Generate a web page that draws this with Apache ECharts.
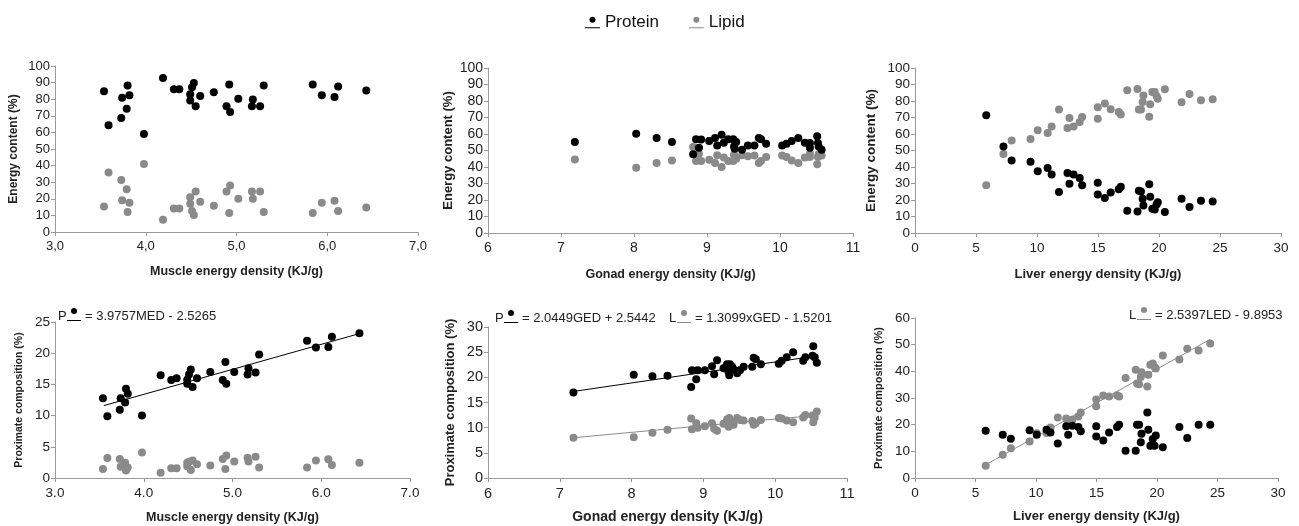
<!DOCTYPE html>
<html>
<head>
<meta charset="utf-8">
<script src="https://cdn.jsdelivr.net/npm/echarts@6/dist/echarts.min.js"></script>
<style>
  html, body { margin: 0; padding: 0; background: #fff; }
  #chart { width: 1299px; height: 526px; }
</style>
</head>
<body>
<div id="chart"></div>
<script>
// ---- muscle ----
const muscleX = [3.54, 3.59, 3.73, 3.74, 3.79, 3.80, 3.82, 3.98, 4.19, 4.31, 4.37, 4.49, 4.49, 4.51, 4.53, 4.55, 4.60, 4.75, 4.89, 4.92, 4.93, 5.02, 5.17, 5.18, 5.26, 5.30, 5.84, 5.94, 6.08, 6.12, 6.43]
const muscleProtEnergy = [84.8, 64.3, 68.7, 80.8, 74.3, 88.2, 82.4, 59.1, 92.8, 86.0, 86.0, 83.0, 79.2, 87.2, 89.8, 75.8, 82.0, 84.2, 75.8, 88.8, 72.3, 80.2, 75.8, 79.8, 75.8, 88.2, 88.8, 82.4, 81.4, 87.6, 85.2]
const muscleLipEnergy = [15.4, 35.9, 31.3, 19.2, 25.7, 12.0, 17.6, 40.9, 7.4, 14.2, 14.2, 17.0, 21.0, 12.6, 10.2, 24.4, 18.2, 15.8, 24.4, 11.4, 28.0, 20.0, 24.4, 20.0, 24.4, 12.0, 11.4, 17.6, 18.8, 12.6, 14.8]
const muscleProtComp = [12.8, 9.9, 10.95, 12.8, 12.1, 14.3, 13.5, 10.0, 16.45, 15.7, 16.0, 15.75, 15.1, 16.6, 17.4, 14.6, 16.0, 17.0, 15.7, 18.6, 15.1, 17.0, 16.6, 17.6, 16.9, 19.8, 22.0, 20.9, 21.0, 22.65, 23.2]
const muscleLipComp = [1.45, 3.2, 3.05, 1.8, 2.45, 1.2, 1.7, 4.1, 0.85, 1.55, 1.55, 2.45, 1.9, 2.6, 1.3, 2.8, 2.2, 2.0, 3.05, 1.45, 3.6, 2.65, 3.25, 2.65, 3.4, 1.7, 1.7, 2.8, 3.0, 2.1, 2.45]
const muscleProtFit = [[3.55, 11.6], [6.42, 23.1]]

// ---- gonad ----
const gonadEnergyX = [7.19, 8.03, 8.31, 8.52, 8.81, 8.85, 8.89, 8.92, 9.03, 9.11, 9.14, 9.20, 9.23, 9.29, 9.36, 9.37, 9.38, 9.40, 9.48, 9.56, 9.65, 9.71, 9.74, 9.81, 10.03, 10.09, 10.16, 10.25, 10.34, 10.41, 10.41, 10.51, 10.52, 10.53, 10.57]
const gonadProtEnergy = [55.2, 60.2, 57.6, 55.2, 47.7, 56.8, 51.7, 56.6, 55.8, 57.6, 53.1, 59.6, 54.7, 56.8, 56.8, 52.5, 51.1, 55.2, 50.5, 53.1, 53.1, 57.6, 56.8, 54.1, 53.1, 54.1, 55.8, 57.6, 54.7, 54.5, 51.7, 58.6, 54.5, 52.5, 50.5]
const gonadLipEnergy = [44.6, 39.6, 42.4, 44.0, 52.1, 43.6, 48.1, 43.6, 44.4, 42.4, 47.1, 40.0, 45.7, 43.6, 43.6, 47.5, 46.0, 45.0, 47.1, 46.5, 47.0, 42.4, 43.6, 46.0, 47.0, 46.0, 44.0, 42.4, 45.7, 46.0, 48.0, 41.6, 46.0, 47.7, 47.0]
const gonadCompX = [7.19, 8.03, 8.29, 8.50, 8.83, 8.84, 8.90, 8.92, 9.02, 9.12, 9.15, 9.19, 9.28, 9.33, 9.35, 9.36, 9.37, 9.40, 9.42, 9.47, 9.51, 9.56, 9.68, 9.70, 9.73, 9.80, 10.05, 10.09, 10.16, 10.25, 10.39, 10.42, 10.52, 10.53, 10.55, 10.58]
const gonadProtComp = [17.0, 20.5, 20.2, 20.3, 18.1, 21.4, 19.6, 21.4, 21.4, 22.2, 20.6, 23.4, 21.8, 22.6, 21.1, 20.4, 22.6, 22.1, 21.6, 20.8, 21.4, 22.1, 22.1, 23.9, 23.6, 22.6, 22.7, 23.3, 24.0, 25.0, 23.3, 24.0, 24.3, 26.2, 24.0, 22.9]
const gonadLipComp = [8.0, 8.1, 9.0, 9.6, 11.8, 9.7, 10.9, 10.0, 10.3, 10.9, 9.8, 9.4, 10.8, 11.6, 10.2, 11.9, 10.5, 11.1, 10.6, 11.9, 11.5, 11.4, 11.3, 10.6, 10.9, 11.5, 11.9, 11.8, 11.4, 11.1, 12.0, 12.5, 12.4, 11.1, 12.0, 13.2]
const gonadProtFit = [[7.19, 17.2], [10.6, 24.3]]
const gonadLipFit = [[7.19, 8.0], [10.6, 12.5]]

// ---- liver ----
const liverX = [5.84, 7.25, 7.92, 9.47, 10.06, 10.87, 11.2, 11.8, 12.5, 12.66, 13.0, 13.5, 13.7, 14.98, 14.98, 15.56, 16.04, 16.7, 16.87, 17.4, 18.24, 18.35, 18.52, 18.66, 18.72, 19.2, 19.28, 19.45, 19.65, 19.8, 19.9, 20.48, 21.85, 22.5, 23.44, 24.4]
const liverProtEnergy = [71.3, 52.5, 44.0, 43.2, 37.4, 39.4, 35.4, 24.8, 36.4, 29.9, 35.4, 33.3, 28.9, 30.5, 23.4, 21.2, 24.6, 26.5, 28.0, 13.5, 13.0, 25.6, 25.2, 20.8, 16.7, 29.5, 22.0, 14.7, 14.3, 17.2, 18.6, 12.7, 20.8, 15.8, 19.6, 19.1]
const liverLipEnergy = [28.9, 47.9, 56.0, 57.0, 62.2, 60.6, 64.6, 74.9, 63.6, 69.7, 64.6, 67.3, 70.3, 69.3, 76.2, 78.5, 75.0, 73.4, 71.8, 86.5, 87.2, 74.8, 74.8, 79.4, 83.3, 70.5, 78.0, 85.5, 85.5, 83.0, 81.3, 87.1, 79.2, 84.3, 80.5, 81.0]
const liverProtComp = [17.7, 16.2, 14.7, 17.9, 16.2, 18.1, 17.1, 12.9, 19.4, 16.2, 19.6, 19.1, 17.5, 19.4, 15.6, 14.1, 17.1, 19.1, 20.0, 10.2, 10.2, 20.0, 20.0, 13.4, 16.6, 24.6, 18.1, 12.1, 14.6, 12.1, 15.9, 11.5, 19.1, 15.0, 20.0, 20.0]
const liverLipComp = [4.6, 8.7, 11.2, 13.7, 16.8, 16.9, 18.9, 22.7, 22.3, 21.4, 21.8, 23.1, 24.6, 26.9, 29.4, 30.9, 30.6, 31.0, 30.6, 37.5, 40.6, 35.4, 35.2, 37.9, 39.7, 34.3, 38.7, 42.5, 42.9, 41.6, 41.1, 45.9, 44.4, 48.5, 47.8, 50.4]
const liverLipFit = [[5.86, 5.0], [24.4, 52.0]]

const BLACK = '#000000'
const GREY = '#8a8a8a'
const FONT = 'Liberation Sans, Arial, sans-serif'

const pairs = (xs, ys) => xs.map((x, i) => [x, ys[i]])

// grid boxes (px)
const gridBoxes = [
  {left: 55, top: 66, width: 363, height: 166},
  {left: 488, top: 68, width: 365, height: 165},
  {left: 915, top: 68, width: 366, height: 165},
  {left: 55, top: 322, width: 355, height: 156},
  {left: 488, top: 327, width: 359, height: 151},
  {left: 915, top: 318, width: 363, height: 160}
]

const axisLine = {lineStyle: {color: '#9a9a9a', width: 1}}
const axisTick = {show: true, length: 4, lineStyle: {color: '#9a9a9a'}}
const tickLabel = size => ({color: '#222', fontSize: size, fontFamily: FONT})
const nameStyle = size => ({color: '#222', fontSize: size, fontWeight: 'bold', fontFamily: FONT})

// per panel: tick font, x name font, y name font (panels are scaled a little differently)
const panelFonts = [
  {tick: 13, xName: 12.5, yName: 12},
  {tick: 14, xName: 12.5, yName: 13},
  {tick: 13.5, xName: 13, yName: 13.5},
  {tick: 13.5, xName: 12.5, yName: 10.5},
  {tick: 14.5, xName: 14, yName: 13},
  {tick: 13.5, xName: 13, yName: 11}
]

const xAxisDefs = [
  {min: 3, max: 7, interval: 1, name: 'Muscle energy density (KJ/g)', fmt: v => v.toFixed(1).replace('.', ','), gap: 33},
  {min: 6, max: 11, interval: 1, name: 'Gonad energy density (KJ/g)', fmt: v => String(v), gap: 35},
  {min: 0, max: 30, interval: 5, name: 'Liver energy density (KJ/g)', fmt: v => String(v), gap: 35},
  {min: 3, max: 7, interval: 1, name: 'Muscle energy density (KJ/g)', fmt: v => v.toFixed(1), gap: 33},
  {min: 6, max: 11, interval: 1, name: 'Gonad energy density (KJ/g)', fmt: v => String(v), gap: 32},
  {min: 0, max: 30, interval: 5, name: 'Liver energy density (KJ/g)', fmt: v => String(v), gap: 32}
]
const yAxisDefs = [
  {min: 0, max: 100, interval: 10, name: 'Energy content (%)', gap: 35},
  {min: 0, max: 100, interval: 10, name: 'Energy content (%)', gap: 33},
  {min: 0, max: 100, interval: 10, name: 'Energy content (%)', gap: 37},
  {min: 0, max: 25, interval: 5, name: 'Proximate composition (%)', gap: 30},
  {min: 0, max: 30, interval: 5, name: 'Proximate composition (%)', gap: 31},
  {min: 0, max: 60, interval: 10, name: 'Proximate composition (%)', gap: 31}
]

const xAxes = xAxisDefs.map((d, i) => ({
  type: 'value', gridIndex: i, min: d.min, max: d.max, interval: d.interval,
  name: d.name, nameLocation: 'middle', nameGap: d.gap, nameTextStyle: nameStyle(panelFonts[i].xName),
  axisLine: axisLine, axisTick: axisTick, splitLine: {show: false},
  axisLabel: Object.assign({formatter: d.fmt, margin: 8}, tickLabel(panelFonts[i].tick))
}))
const yAxes = yAxisDefs.map((d, i) => ({
  type: 'value', gridIndex: i, min: d.min, max: d.max, interval: d.interval,
  name: d.name, nameLocation: 'middle', nameGap: d.gap, nameTextStyle: nameStyle(panelFonts[i].yName),
  axisLine: Object.assign({show: true}, axisLine), axisTick: axisTick, splitLine: {show: false},
  axisLabel: Object.assign({margin: 5}, tickLabel(panelFonts[i].tick))
}))

const dots = (name, idx, data, color) => ({
  name: name, type: 'scatter', xAxisIndex: idx, yAxisIndex: idx,
  data: data, symbolSize: 8, itemStyle: {color: color, opacity: 1}, z: 3
})
const fit = (idx, data, color) => ({
  name: 'fit', type: 'line', xAxisIndex: idx, yAxisIndex: idx,
  data: data, symbol: 'none', lineStyle: {color: color, width: 1}, z: 2, silent: true
})

const series = [
  dots('Protein', 0, pairs(muscleX, muscleProtEnergy), BLACK),
  dots('Lipid', 0, pairs(muscleX, muscleLipEnergy), GREY),
  dots('Lipid', 1, pairs(gonadEnergyX, gonadLipEnergy), GREY),
  dots('Protein', 1, pairs(gonadEnergyX, gonadProtEnergy), BLACK),
  dots('Lipid', 2, pairs(liverX, liverLipEnergy), GREY),
  dots('Protein', 2, pairs(liverX, liverProtEnergy), BLACK),
  dots('Protein', 3, pairs(muscleX, muscleProtComp), BLACK),
  dots('Lipid', 3, pairs(muscleX, muscleLipComp), GREY),
  fit(3, muscleProtFit, BLACK),
  dots('Protein', 4, pairs(gonadCompX, gonadProtComp), BLACK),
  dots('Lipid', 4, pairs(gonadCompX, gonadLipComp), GREY),
  fit(4, gonadProtFit, BLACK),
  fit(4, gonadLipFit, GREY),
  dots('Lipid', 5, pairs(liverX, liverLipComp), GREY),
  dots('Protein', 5, pairs(liverX, liverProtComp), BLACK),
  fit(5, liverLipFit, GREY)
]

// dot-over-underline marker used in legend and equations
const ICON = 'path://M7.5,0.5A3,3,0,1,1,7.5,6.5A3,3,0,1,1,7.5,0.5ZM0,10.8H15V11.8H0Z'

// equation label: "P <marker> = ...", drawn as graphic
const eq = (x, y, letter, color, text) => {
  const w = letter === 'P' ? 9 : 8
  return {
    type: 'group', left: x, top: y,
    children: [
      {type: 'text', x: 0, y: 0, style: {text: letter, font: '13px ' + FONT, fill: '#222'}},
      {type: 'circle', shape: {cx: w + 7, cy: 1, r: 3}, style: {fill: color}},
      {type: 'line', shape: {x1: w, y1: 10.5, x2: w + 14, y2: 10.5}, style: {stroke: color, lineWidth: 1}},
      {type: 'text', x: w + 18, y: 0, style: {text: text, font: '13px ' + FONT, fill: '#222'}}
    ]
  }
}

const chart = echarts.init(document.getElementById('chart'))
chart.setOption({
  animation: false,
  textStyle: {fontFamily: FONT},
  legend: {
    data: ['Protein', 'Lipid'], top: 9, left: 580,
    icon: ICON, itemWidth: 15, itemHeight: 12, itemGap: 30,
    textStyle: {fontSize: 17, color: '#111', fontFamily: FONT}
  },
  grid: gridBoxes.map(g => Object.assign({containLabel: false}, g)),
  xAxis: xAxes,
  yAxis: yAxes,
  series: series,
  graphic: [
    eq(58, 308, 'P', BLACK, '= 3.9757MED - 2.5265'),
    eq(495, 310, 'P', BLACK, '= 2.0449GED + 2.5442'),
    eq(669, 310, 'L', GREY, '= 1.3099xGED - 1.5201'),
    eq(1129, 307, 'L', GREY, '= 2.5397LED - 9.8953')
  ]
})
</script>
</body>
</html>
